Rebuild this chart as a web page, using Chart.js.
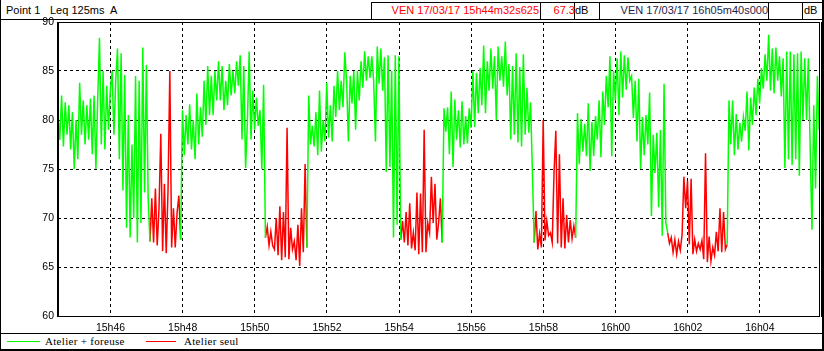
<!DOCTYPE html>
<html>
<head>
<meta charset="utf-8">
<script src="https://cdn.jsdelivr.net/npm/chart.js@4.4.1/dist/chart.umd.min.js"></script>
<style>
  html, body { margin: 0; padding: 0; background: #fff; }
  #wrap { position: relative; width: 824px; height: 351px; overflow: hidden; font-family: "Liberation Sans", Arial, sans-serif; }
  #chart { position: absolute; left: 0; top: 0; }
  .ln { position: absolute; background: #000; }
  .txt { position: absolute; white-space: nowrap; font-size: 11px; line-height: 13px; color: #000; }
  .legend { font-family: "Liberation Serif", "Times New Roman", serif; letter-spacing: 0.3px; }
</style>
</head>
<body>
<div id="wrap">
  <!-- header -->
  <div class="txt" style="left:6px;top:4px;">Point 1</div>
  <div class="txt" style="left:50px;top:4px;">Leq 125ms</div>
  <div class="txt" style="left:110px;top:4px;">A</div>
  <div class="ln" style="left:371px;top:2px;width:451px;height:1px;"></div>
  <div class="ln" style="left:371px;top:2px;width:1px;height:17px;"></div>
  <div class="ln" style="left:540px;top:2px;width:1px;height:17px;"></div>
  <div class="ln" style="left:574px;top:2px;width:1px;height:17px;"></div>
  <div class="ln" style="left:599px;top:2px;width:1px;height:17px;"></div>
  <div class="ln" style="left:768px;top:2px;width:1px;height:17px;"></div>
  <div class="ln" style="left:802px;top:2px;width:1px;height:17px;"></div>
  <div class="txt" style="left:371px;top:4px;width:168px;text-align:right;color:#ff0000;">VEN 17/03/17 15h44m32s625</div>
  <div class="txt" style="left:541px;top:4px;width:34px;text-align:right;color:#ff0000;">67.3</div>
  <div class="txt" style="left:575px;top:4px;">dB</div>
  <div class="txt" style="left:600px;top:4px;width:168px;text-align:right;color:#1e1e4e;">VEN 17/03/17 16h05m40s000</div>
  <div class="txt" style="left:804px;top:4px;">dB</div>
  <div class="ln" style="left:0;top:19px;width:824px;height:1px;"></div>

  <!-- frame -->
  <div class="ln" style="left:0;top:0;width:1px;height:351px;"></div>
  <div class="ln" style="left:822px;top:0;width:2px;height:351px;"></div>
  <div class="ln" style="left:0;top:349px;width:824px;height:2px;"></div>
  <div class="ln" style="left:0;top:333px;width:824px;height:1px;"></div>

  <!-- legend -->
  <div class="ln" style="left:7px;top:341px;width:33px;height:1px;background:#00ff00;"></div>
  <div class="txt legend" style="left:45px;top:335px;">Atelier + foreuse</div>
  <div class="ln" style="left:146px;top:341px;width:30px;height:1px;background:#ff0000;"></div>
  <div class="txt legend" style="left:184px;top:335px;">Atelier seul</div>

  <canvas id="chart" width="824" height="351"></canvas>
</div>

<script>
// time axis in minutes after 15h00, one Leq value every 3 s
const startMinute = 44 + 32.625 / 60;   // 15h44m32s625
const endMinute = 65 + 40 / 60;         // 16h05m40s000
const stepMinute = 3 / 60;

const tickMinutes = [46, 48, 50, 52, 54, 56, 58, 60, 62, 64];
const tickLabels = ['15h46', '15h48', '15h50', '15h52', '15h54', '15h56', '15h58', '16h00', '16h02', '16h04'];

// sample index ranges where only the workshop is running (red)
const redSpans = [[51, 68], [115, 138], [190, 213], [264, 287], [338, 371]];

// Leq dB(A)
const leq = [
  80.5, 78, 82.5, 77.3, 81.8, 78.5, 81.5, 77, 80.8, 75,
  80, 76, 83.8, 78.5, 82, 77.5, 81.5, 78, 82.2, 76.5,
  82.5, 75, 82, 88.4, 77.5, 85, 77, 83.5, 79, 83,
  85, 78.5, 84, 87.3, 76, 86.8, 72.8, 84.6, 69, 80.5,
  68, 77.5, 70, 84.5, 67.5, 84, 69.5, 87.4, 72.6, 85.6,
  72, 67.6, 72, 67.5, 73, 67.2, 71, 78.6, 66.6, 73.5,
  66.4, 72.8, 85, 67, 71, 67, 70.5, 72.3, 67.8, 81,
  76.4, 80.5, 77.5, 81.6, 77, 80, 76, 82.7, 77.5, 81.3,
  78.3, 84, 79.5, 85.5, 80.5, 84.5, 80.5, 85, 82, 86,
  82, 85.5, 81, 84, 81.5, 85.7, 82.5, 85, 82.7, 86,
  83.5, 86.6, 78, 85.5, 75.1, 79.8, 87, 78, 83, 79,
  82.3, 79.4, 81, 75, 83.6, 68, 69.1, 67.2, 68.6, 67.2,
  66.8, 70, 66.2, 71.2, 65.7, 70.6, 66, 79.2, 65.8, 69,
  66.8, 67.6, 65.7, 69.3, 65.1, 71, 66.5, 75.5, 67, 82.5,
  77.5, 79.4, 77.3, 80.8, 76.4, 83, 76.8, 80, 77.8, 83.8,
  78.2, 81.5, 77.8, 83.5, 80.3, 85, 81, 84, 81.3, 86.9,
  84, 77.8, 84.5, 81.7, 85, 79, 85, 82, 86, 83.3,
  87, 84, 86.5, 84.3, 86.5, 84, 77.8, 87.5, 83.7, 87.3,
  83, 86.4, 74.7, 86.6, 75.2, 85, 68, 86.6, 69.3, 86.5,
  67.8, 69.7, 67.5, 70.6, 67.2, 71.5, 66.9, 68.5, 66.7, 72.6,
  66.3, 72.5, 66.5, 79, 66.5, 69.5, 68.5, 74.2, 69.5, 73.5,
  67.8, 69.5, 72, 67.5, 81.2, 78.8, 81.3, 76.5, 82.9, 75.2,
  82.1, 78, 81, 77.2, 81.9, 77.5, 80.4, 77.6, 81.2, 79.2,
  85, 79.3, 84.8, 80.7, 85.3, 81.5, 87.6, 80.7, 86, 83,
  87.3, 83.2, 86.5, 80, 87.5, 84, 86.5, 83.4, 88, 82.5,
  85.7, 78, 85.5, 78.5, 86.8, 77.7, 85.4, 77.3, 86.7, 78.5,
  83.3, 78.7, 81.8, 74.8, 67.5, 70.7, 66.8, 68.4, 67, 80,
  67.7, 69.7, 68.2, 68.5, 67.5, 74.6, 78.9, 67.4, 76.5, 67,
  72, 66.9, 70.3, 67.5, 69.8, 67.9, 69.2, 68, 80.7, 75.5,
  80.1, 76.8, 79.6, 76.3, 81.7, 74.8, 79.8, 76.3, 80.4, 78,
  82, 76.2, 82.9, 79.5, 84.5, 81.3, 86.5, 76.3, 85, 82,
  86.3, 80.5, 87, 82.3, 86.6, 83.1, 86.4, 84, 84.5, 80.2,
  84, 77.8, 84.2, 75, 80.3, 76.4, 80.5, 77.5, 82.8, 70.2,
  78.5, 74.6, 78.7, 71.1, 79, 68.2, 83.7, 69.5, 68.5, 67.4,
  68, 66.5, 67.8, 66.3, 67.6, 66.7, 68.3, 74.2, 71, 73.8,
  67.3, 74, 66.3, 67.8, 66.6, 67.4, 66.8, 67.7, 65.8, 76.6,
  65.5, 68.1, 65.6, 67, 66.2, 68.6, 66.6, 71, 66.5, 70.6,
  66.8, 67.3, 82, 77.5, 82, 76.4, 80.6, 77, 79.7, 77.8,
  80.3, 78.9, 82.9, 76.9, 82.3, 79.5, 83.3, 80.5, 84.2, 81.7,
  85.3, 83.2, 86.7, 84, 88.7, 83, 87.3, 82.7, 87.4, 84,
  86.5, 82.4, 86.3, 75.1, 87, 76, 87, 75.4, 86.7, 76,
  86.8, 74.3, 87, 80, 86.3, 80, 86.3, 77.3, 68.8, 81.5,
  73, 84.5, 79
];

const inRed = (i, strict) => redSpans.some(([a, b]) => strict ? (i > a && i < b) : (i >= a && i <= b));
const greenData = leq.map((v, i) => ({ x: startMinute + i * stepMinute, y: inRed(i, true) ? null : v }));
const redData = leq.map((v, i) => ({ x: startMinute + i * stepMinute, y: inRed(i, false) ? v : null }));

// solid plot frame, thick on the left, double on the right
const plotFrame = {
  id: 'plotFrame',
  afterDraw(chart) {
    const { ctx, chartArea: a } = chart;
    ctx.save();
    ctx.strokeStyle = '#000';
    ctx.lineWidth = 1;
    ctx.beginPath();
    ctx.moveTo(a.left, a.top + 0.5);
    ctx.lineTo(a.right, a.top + 0.5);
    ctx.moveTo(a.left, a.bottom + 0.5);
    ctx.lineTo(a.right, a.bottom + 0.5);
    ctx.moveTo(a.right - 0.5, a.top);
    ctx.lineTo(a.right - 0.5, a.bottom + 1);
    ctx.moveTo(a.right + 1.5, a.top);
    ctx.lineTo(a.right + 1.5, a.bottom + 1);
    ctx.stroke();
    ctx.lineWidth = 2;
    ctx.beginPath();
    ctx.moveTo(a.left, a.top);
    ctx.lineTo(a.left, a.bottom + 1);
    ctx.stroke();
    ctx.restore();
  }
};

const tickFont = { family: '"Liberation Sans", Arial, sans-serif', size: 10.5 };

new Chart(document.getElementById('chart').getContext('2d'), {
  type: 'line',
  data: {
    datasets: [
      {
        label: 'Atelier + foreuse',
        data: greenData,
        borderColor: '#00ff00',
        borderWidth: 1.5,
        pointRadius: 0,
        tension: 0,
      },
      {
        label: 'Atelier seul',
        data: redData,
        borderColor: '#ff0000',
        borderWidth: 1.5,
        pointRadius: 0,
        tension: 0,
      },
    ],
  },
  options: {
    responsive: false,
    animation: false,
    devicePixelRatio: 1,
    layout: { padding: { left: 0, right: 4, top: 22, bottom: 0 } },
    plugins: {
      legend: { display: false },
      tooltip: { enabled: false },
    },
    scales: {
      x: {
        type: 'linear',
        min: startMinute,
        max: endMinute,
        afterBuildTicks: (scale) => { scale.ticks = tickMinutes.map((v) => ({ value: v })); },
        afterFit: (scale) => { scale.height = 35; },
        grid: { color: '#000', drawTicks: false },
        border: { display: false, dash: [3, 3] },
        ticks: {
          color: '#000',
          font: tickFont,
          padding: 6,
          maxRotation: 0,
          autoSkip: false,
          callback: (value) => tickLabels[tickMinutes.indexOf(value)] ?? '',
        },
      },
      y: {
        min: 60,
        max: 90,
        afterFit: (scale) => { scale.width = 58; },
        grid: { color: '#000', drawTicks: false },
        border: { display: false, dash: [3, 3] },
        ticks: { stepSize: 5, color: '#000', font: tickFont, padding: 4 },
      },
    },
  },
  plugins: [plotFrame],
});
</script>
</body>
</html>
